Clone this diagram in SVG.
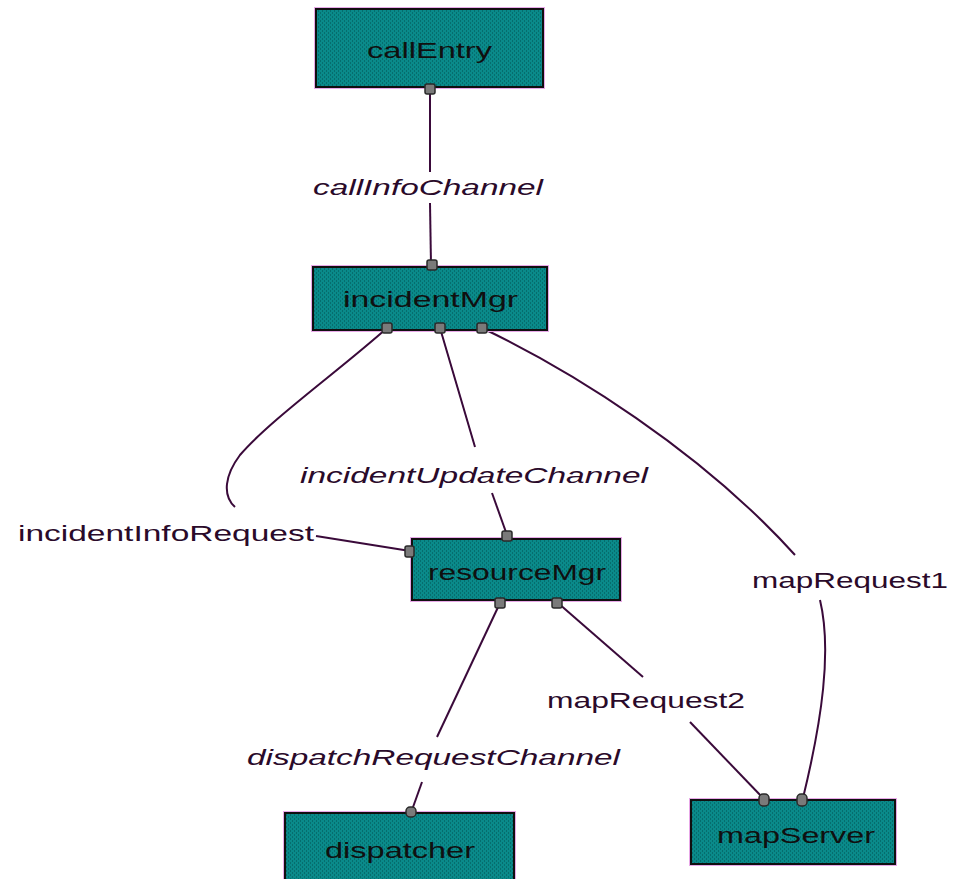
<svg xmlns="http://www.w3.org/2000/svg" width="954" height="879" viewBox="0 0 954 879">
<defs>
<pattern id="tex" width="4" height="4" patternUnits="userSpaceOnUse">
<rect width="4" height="4" fill="#0a8a8a"/>
<rect x="0" y="0" width="1" height="2" fill="#066e6e"/>
<rect x="2" y="2" width="1" height="2" fill="#066e6e"/>
</pattern>
</defs>
<style>
.box{fill:url(#tex);stroke:#101010;stroke-width:2}
.halo{fill:none;stroke:#e8a8e8;stroke-width:4}
.port{fill:#7a7a7a;stroke:#2a2a2a;stroke-width:1.5}
.nt{font-family:"Liberation Sans",Arial,sans-serif;font-size:22px;fill:#101010;text-anchor:start}
.lbl{font-family:"Liberation Sans",Arial,sans-serif;font-size:22px;fill:#2a0a2a}
.it{font-style:italic}
.conn path{fill:none;stroke:#3a0a3a;stroke-width:2}
</style>
<rect width="954" height="879" fill="#ffffff"/>
<g class="conn" id="connectors">
<path d="M430,89 L430,172"/>
<path d="M430,203 L431,265"/>
<path d="M387,328 C340,370 270,420 240,455 C225,475 222,495 235,507"/>
<path d="M316,536 L410,551"/>
<path d="M440,328 L475,447"/>
<path d="M492,493 L507,535"/>
<path d="M482,328 C570,370 700,450 795,555"/>
<path d="M820,600 C832,650 822,720 803,798"/>
<path d="M500,603 L437,737"/>
<path d="M422,782 L412,810"/>
<path d="M558,603 L643,677"/>
<path d="M690,722 L763,798"/>
</g>
<g class="lbl">
<text class="lbl it" x="313" y="195" textLength="230" lengthAdjust="spacingAndGlyphs">callInfoChannel</text>
<text class="lbl it" x="300" y="483" textLength="348" lengthAdjust="spacingAndGlyphs">incidentUpdateChannel</text>
<text class="lbl" x="18" y="541" textLength="296" lengthAdjust="spacingAndGlyphs">incidentInfoRequest</text>
<text class="lbl" x="752" y="588" textLength="196" lengthAdjust="spacingAndGlyphs">mapRequest1</text>
<text class="lbl" x="547" y="708" textLength="198" lengthAdjust="spacingAndGlyphs">mapRequest2</text>
<text class="lbl it" x="247" y="765" textLength="373" lengthAdjust="spacingAndGlyphs">dispatchRequestChannel</text>
</g>
<g id="callEntry">
<rect class="halo" x="316" y="9" width="227" height="78"/>
<rect class="box" x="316" y="9" width="227" height="78"/>
<text class="nt" x="367" y="58" textLength="125" lengthAdjust="spacingAndGlyphs">callEntry</text>
<rect class="port" x="425" y="84" width="10" height="10" rx="2"/>
</g>
<g id="incidentMgr">
<rect class="halo" x="313" y="267" width="234" height="63"/>
<rect class="box" x="313" y="267" width="234" height="63"/>
<text class="nt" x="343" y="307" textLength="175" lengthAdjust="spacingAndGlyphs">incidentMgr</text>
<rect class="port" x="427" y="260" width="10" height="10" rx="2"/>
<rect class="port" x="382" y="323" width="10" height="10" rx="2"/>
<rect class="port" x="435" y="323" width="10" height="10" rx="2"/>
<rect class="port" x="477" y="323" width="10" height="10" rx="2"/>
</g>
<g id="resourceMgr">
<rect class="halo" x="412" y="539" width="208" height="61"/>
<rect class="box" x="412" y="539" width="208" height="61"/>
<text class="nt" x="428" y="580" textLength="178" lengthAdjust="spacingAndGlyphs">resourceMgr</text>
<rect class="port" x="405" y="546" width="9" height="11" rx="2"/>
<rect class="port" x="502" y="531" width="10" height="10" rx="2"/>
<rect class="port" x="495" y="598" width="10" height="10" rx="2"/>
<rect class="port" x="552" y="598" width="10" height="10" rx="2"/>
</g>
<g id="dispatcher">
<rect class="halo" x="285" y="813" width="229" height="70"/>
<rect class="box" x="285" y="813" width="229" height="70"/>
<text class="nt" x="325" y="858" textLength="150" lengthAdjust="spacingAndGlyphs">dispatcher</text>
<rect class="port" x="406" y="807" width="10" height="10" rx="4"/>
</g>
<g id="mapServer">
<rect class="halo" x="691" y="800" width="204" height="64"/>
<rect class="box" x="691" y="800" width="204" height="64"/>
<text class="nt" x="717" y="843" textLength="158" lengthAdjust="spacingAndGlyphs">mapServer</text>
<rect class="port" x="759" y="794" width="10" height="12" rx="4"/>
<rect class="port" x="797" y="794" width="10" height="12" rx="4"/>
</g>
</svg>
